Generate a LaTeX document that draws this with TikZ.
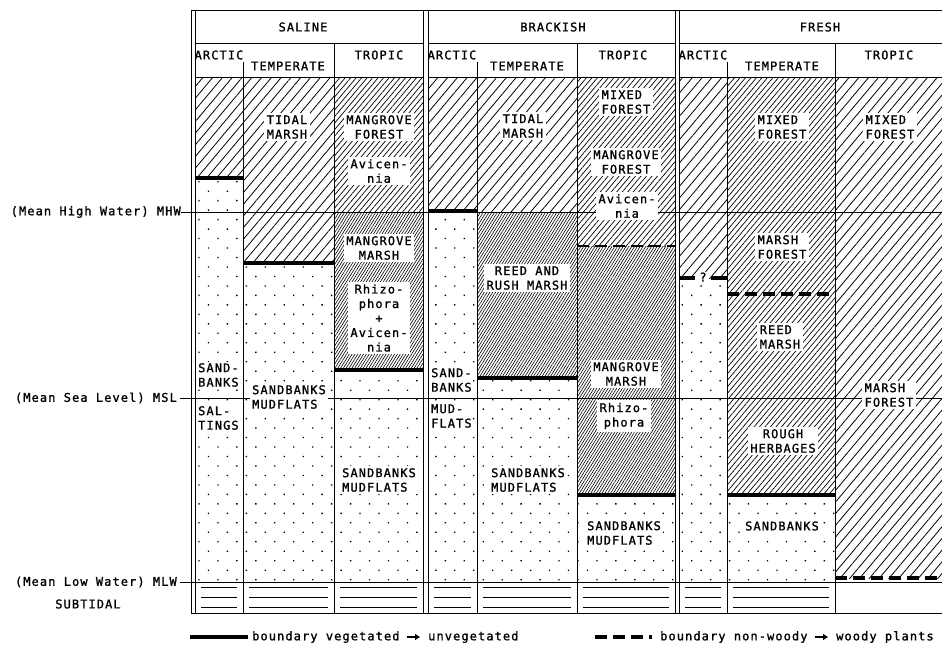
\documentclass[tikz,border=0pt]{standalone}
\usepackage{fontspec}
\usepackage{tikz}
\usetikzlibrary{arrows.meta,patterns.meta}
\newfontfamily\typefont[LetterSpace=9,FakeBold=1.2]{DejaVu Sans Mono}

\begin{document}
\begin{tikzpicture}[x=1pt, y=-1pt,
  frame/.style={line width=1pt},
  level/.style={line width=0.8pt},
  sparse/.style={pattern={Lines[angle=50,distance=7.5pt,line width=0.8pt]}},
  medium/.style={pattern={Lines[angle=50,distance=4.2pt,line width=0.7pt]}},
  dense/.style={pattern={Lines[angle=58,distance=2.4pt,line width=0.6pt]}},
  dotty/.style={pattern={Dots[angle=45,distance=13.4pt,radius=0.95pt]}},
  vegline/.style={line width=3.5pt},
  woodline/.style={line width=3.5pt, dash pattern=on 12pt off 6pt},
  zone/.style={font=\typefont\fontsize{12}{14.5}\selectfont, fill=white, inner sep=2.5pt, align=center},
  head/.style={font=\typefont\fontsize{12}{14}\selectfont, inner sep=0pt},
  legtext/.style={font=\typefont\fontsize{12}{14}\selectfont, inner sep=0pt, anchor=west},
  legarrow/.style={-{Triangle[length=5pt,width=6pt]}, line width=2pt, shorten <=7pt, shorten >=8pt}
]
\useasboundingbox (0,0) rectangle (942,646);

% zones, column by column
\path[sparse] (195,77) rectangle (243,178);
\path[dotty]  (195,178) rectangle (243,582);
\path[sparse] (243,77) rectangle (334,263);
\path[dotty]  (243,263) rectangle (334,582);
\path[medium] (334,77) rectangle (423,212);
\path[dense]  (334,212) rectangle (423,370);
\path[dotty]  (334,370) rectangle (423,582);
\path[sparse] (428,77) rectangle (477,211);
\path[dotty]  (428,211) rectangle (477,582);
\path[sparse] (477,77) rectangle (577,212);
\path[dense]  (477,212) rectangle (577,378);
\path[dotty]  (477,378) rectangle (577,582);
\path[medium] (577,77) rectangle (675,246);
\path[dense]  (577,246) rectangle (675,495);
\path[dotty]  (577,495) rectangle (675,582);
\path[sparse] (679,77) rectangle (727,278);
\path[dotty]  (679,278) rectangle (727,582);
\path[medium] (727,77) rectangle (835,495);
\path[dotty]  (727,495) rectangle (835,582);
\path[sparse] (835,77) rectangle (942,578);

% subtidal
\foreach \l/\r in {195/243,243/334,334/423,428/477,477/577,577/675,679/727,727/835}
  \foreach \y in {587,597,607}
    \draw[line width=0.8pt] (\l+6,\y) -- (\r-6,\y);

% levels
\draw[level] (181,212) -- (942,212);
\draw[level] (181,398) -- (942,398);
\draw[level] (181,582) -- (942,582);

% frame
\draw[frame] (191,10) -- (942,10);
\draw[frame] (191,613) -- (942,613);
\foreach \x in {191,195,423,428,675,679}
  \draw[frame] (\x,10) -- (\x,613);
\foreach \x/\t in {243/62,334/43,477/62,577/43,727/62,835/43}
  \draw[frame] (\x,\t) -- (\x,613);
\foreach \l/\r in {195/423,428/675,679/942} {
  \draw[frame] (\l,43) -- (\r,43);
  \draw[frame] (\l,77) -- (\r,77);
}

% boundaries
\draw[vegline] (195,178) -- (243,178);
\draw[vegline] (243,263) -- (334,263);
\draw[vegline] (334,370) -- (423,370);
\draw[vegline] (428,211) -- (477,211);
\draw[vegline] (477,378) -- (577,378);
\draw[vegline] (577,495) -- (675,495);
\draw[vegline] (727,495) -- (835,495);
\draw[woodline, line width=2.8pt] (577,246) -- (675,246);
\draw[woodline] (727,294) -- (835,294);
\draw[woodline] (835,578) -- (942,578);
\draw[vegline] (679,278) -- (695,278);
\draw[vegline] (711,278) -- (727,278);
\node[head, fill=white, inner sep=1pt] (query) at (703,277) {?};

% headings
\node[head] (saline) at (303,27) {SALINE};
\node[head] (brackish) at (553,27) {BRACKISH};
\node[head] (fresh) at (820,27) {FRESH};
\node[head] (sArc) at (219,55) {ARCTIC};
\node[head] (sTem) at (288,66) {TEMPERATE};
\node[head] (sTro) at (379,55) {TROPIC};
\node[head] (bArc) at (452,55) {ARCTIC};
\node[head] (bTem) at (527,66) {TEMPERATE};
\node[head] (bTro) at (623,55) {TROPIC};
\node[head] (fArc) at (703,55) {ARCTIC};
\node[head] (fTem) at (782,66) {TEMPERATE};
\node[head] (fTro) at (889,55) {TROPIC};

% level names
\node[head, anchor=east] (mhw) at (181,212) {(Mean High Water) MHW};
\node[head, anchor=east] (msl) at (177,398) {(Mean Sea Level) MSL};
\node[head, anchor=east] (mlw) at (177,582) {(Mean Low Water) MLW};
\node[head] (subtidal) at (88,604) {SUBTIDAL};
\draw[level] (mhw.east) -- (195,212);
\draw[level] (msl.east) ++(3,0) -- (195,398);
\draw[level] (mlw.east) ++(3,0) -- (195,582);

% saline
\node[zone, anchor=west, align=left, inner sep=1pt] (saSand) at (197,375) {SAND-\\BANKS};
\node[zone, anchor=west, align=left, inner sep=1pt] (saSalt) at (197,418) {SAL-\\TINGS};
\node[zone] (stTidal) at (287,127) {TIDAL\\MARSH};
\node[zone, align=left] (stSand) at (289,397) {SANDBANKS\\MUDFLATS};
\node[zone] (srForest) at (379,127) {MANGROVE\\FOREST};
\node[zone] (srAvic) at (379,171) {Avicen-\\nia};
\node[zone] (srMarsh) at (379,248) {MANGROVE\\MARSH};
\node[zone] (srRhizo) at (379,318) {Rhizo-\\phora\\+\\Avicen-\\nia};
\node[zone, align=left] (srSand) at (379,480) {SANDBANKS\\MUDFLATS};

% brackish
\node[zone, anchor=west, align=left, inner sep=1pt] (baSand) at (430,380) {SAND-\\BANKS};
\node[zone, anchor=west, align=left, inner sep=1pt] (baMud) at (430,416) {MUD-\\FLATS};
\node[zone] (btTidal) at (523,126) {TIDAL\\MARSH};
\node[zone] (btReed) at (527,278) {REED AND\\RUSH MARSH};
\node[zone, align=left] (btSand) at (528,480) {SANDBANKS\\MUDFLATS};
\node[zone, align=left] (brMixed) at (626,102) {MIXED\\FOREST};
\node[zone] (brForest) at (626,162) {MANGROVE\\FOREST};
\node[zone] (brAvic) at (627,206) {Avicen-\\nia};
\node[zone] (brMarsh) at (626,374) {MANGROVE\\MARSH};
\node[zone] (brRhizo) at (624,416) {Rhizo-\\phora};
\node[zone, align=left] (brSand) at (624,533) {SANDBANKS\\MUDFLATS};

% fresh
\node[zone, align=left] (ftMixed) at (782,127) {MIXED\\FOREST};
\node[zone, align=left] (ftMarsh) at (782,247) {MARSH\\FOREST};
\node[zone, align=left] (ftReed) at (780,337) {REED\\MARSH};
\node[zone] (ftRough) at (783,441) {ROUGH\\HERBAGES};
\node[zone] (ftSand) at (782,526) {SANDBANKS};
\node[zone, align=left] (frMixed) at (890,127) {MIXED\\FOREST};
\node[zone, align=left] (frMarsh) at (889,395) {MARSH\\FOREST};

% legend
\draw[vegline] (190,637) -- (248,637);
\node[legtext] (vegA) at (252,637) {boundary vegetated};
\node[legtext] (vegB) at (428,637) {unvegetated};
\draw[legarrow] (vegA) -- (vegB);
\draw[woodline] (595,637) -- (652,637);
\node[legtext] (woodA) at (660,637) {boundary non-woody};
\node[legtext] (woodB) at (836,637) {woody plants};
\draw[legarrow] (woodA) -- (woodB);
\end{tikzpicture}
\end{document}
